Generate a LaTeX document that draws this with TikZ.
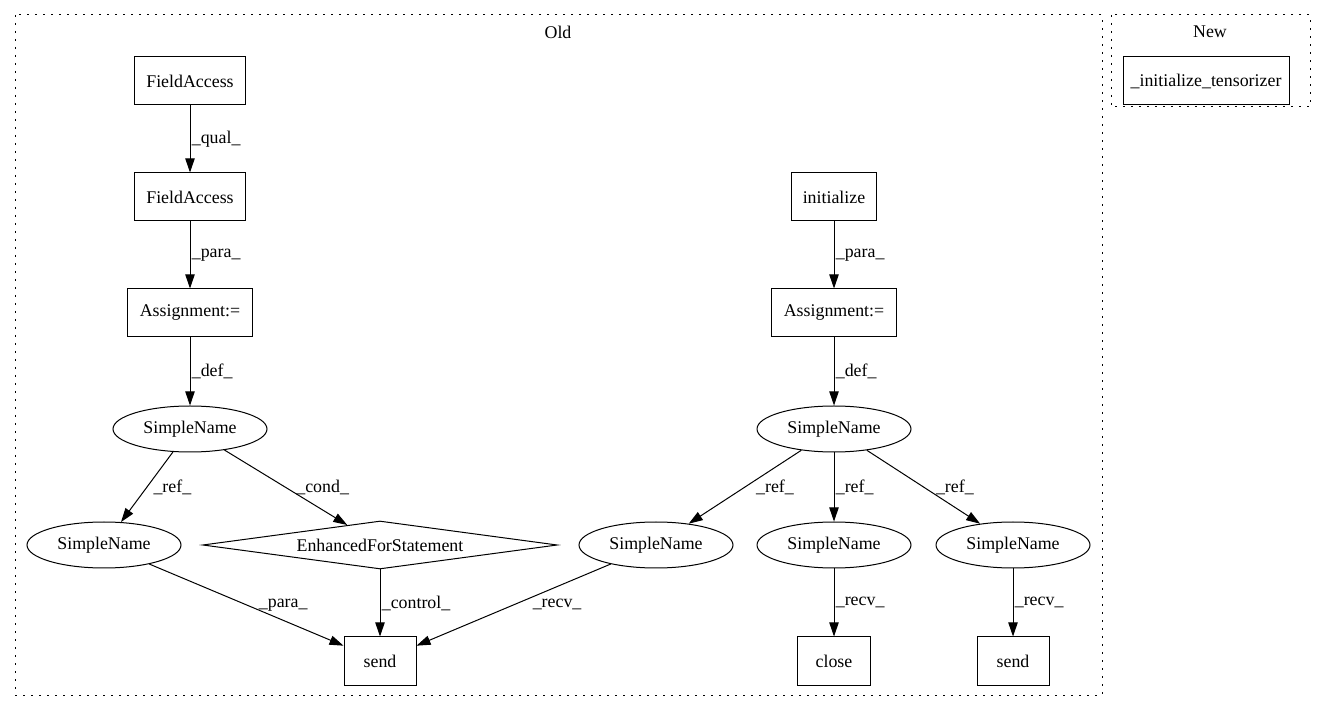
\documentclass[tikz,border=0pt]{standalone}
\usepackage{fontspec}
\setmainfont{Liberation Serif}
\usetikzlibrary{arrows.meta,shapes.geometric}

\begin{document}
\begin{tikzpicture}[x=0.75pt, y=-0.75pt, >={Triangle[length=10.5pt,width=7pt]}, line width=0.75pt, node distance=87pt,
    every node/.style={font=\fontsize{13.4}{15}\selectfont},
    box/.style={draw, minimum height=36pt, inner sep=2pt},
    sname/.style={draw, ellipse, minimum width=115.5pt, minimum height=34.5pt, inner sep=0pt},
    forstmt/.style={draw, diamond, aspect=7, minimum width=266pt, minimum height=36pt, inner sep=0pt},
    lbl/.style={midway, anchor=west, inner sep=1pt},
    cluster/.style={draw, dash pattern=on 1.5pt off 4.5pt}]
    \useasboundingbox (0,0) rectangle (1325,712);

    % Clusters {Old, New}
    \draw [cluster] (15,15) rectangle (1102,695);
    \node (oldlbl) at (558,32) {Old};
    \draw [cluster] (1111,15) rectangle (1310,107);
    \node (newlbl) at (1210,32) {New};

    % Nodes, left tree
    \node [box, minimum width=83.25pt]  (fa1)   at (190,81)      {FieldAccess};
    \node [box, minimum width=83.25pt]  (fa2)   [below of=fa1]   {FieldAccess};
    \node [box, minimum width=93.75pt]  (asg1)  [below of=fa2]   {Assignment:=};
    \node [sname]                       (sn1)   [below of=asg1]  {SimpleName};
    \node [sname]                       (sn2)   at (104,545)     {SimpleName};
    \node [forstmt]                     (efs)   at (380,545)     {EnhancedForStatement};
    \node [box, minimum width=54pt]     (send1) [below of=efs]   {send};

    % Nodes, right tree
    \node [box, minimum width=63.75pt]  (init)  at (834,197)     {initialize};
    \node [box, minimum width=93.75pt]  (asg2)  [below of=init]  {Assignment:=};
    \node [sname]                       (sn3)   [below of=asg2]  {SimpleName};
    \node [sname]                       (sn4)   at (656,545)     {SimpleName};
    \node [sname]                       (sn5)   [below of=sn3]   {SimpleName};
    \node [sname]                       (sn6)   at (1013,545)    {SimpleName};
    \node [box, minimum width=54.75pt]  (close) [below of=sn5]   {close};
    \node [box, minimum width=54pt]     (send2) [below of=sn6]   {send};

    % New
    \node [box, minimum width=124.5pt]  (tens)  at (1206,81)     {\_initialize\_tensorizer};

    % Paths
    \path [->]  (fa1)  edge  node [lbl]               {\_qual\_}     (fa2);
    \path [->]  (fa2)  edge  node [lbl]               {\_para\_}     (asg1);
    \path [->]  (asg1) edge  node [lbl]               {\_def\_}      (sn1);
    \path [->]  (sn1)  edge  node [lbl, xshift=3.5pt] {\_ref\_}      (sn2);
    \path [->]  (sn1)  edge  node [lbl, xshift=6.5pt] {\_cond\_}     (efs);
    \path [->]  (sn2)  edge  node [lbl, xshift=8pt]   {\_para\_}     (send1);
    \path [->]  (efs)  edge  node [lbl]               {\_control\_}  (send1);
    \path [->]  (sn4)  edge  node [lbl, xshift=13pt]  {\_recv\_}     (send1);
    \path [->]  (init) edge  node [lbl]               {\_para\_}     (asg2);
    \path [->]  (asg2) edge  node [lbl]               {\_def\_}      (sn3);
    \path [->]  (sn3)  edge  node [lbl, xshift=7pt]   {\_ref\_}      (sn4);
    \path [->]  (sn3)  edge  node [lbl]               {\_ref\_}      (sn5);
    \path [->]  (sn3)  edge  node [lbl, xshift=8pt]   {\_ref\_}      (sn6);
    \path [->]  (sn5)  edge  node [lbl]               {\_recv\_}     (close);
    \path [->]  (sn6)  edge  node [lbl]               {\_recv\_}     (send2);

\end{tikzpicture}
\end{document}
